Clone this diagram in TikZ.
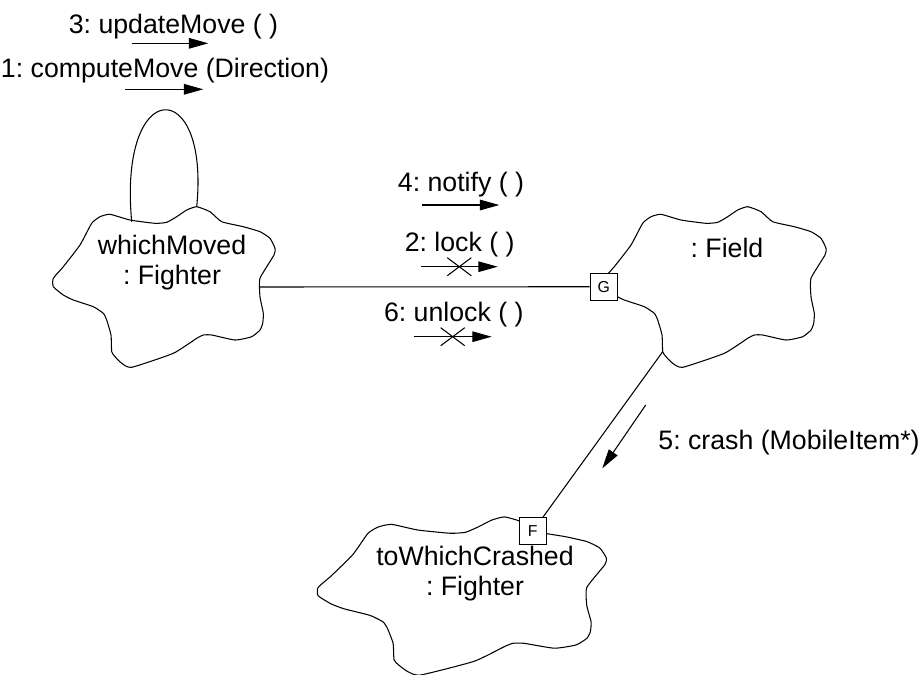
\documentclass[tikz,border=0pt]{standalone}
\usepackage{fontspec}
\setmainfont{Liberation Sans}
\usetikzlibrary{positioning,arrows.meta,shapes.misc}
\frenchspacing

\tikzset{
  cloudline/.style={line width=0.6pt, line join=round},
  objtext/.style={align=center, font=\fontsize{15.2}{17}\selectfont, inner sep=0pt},
  msgtext/.style={font=\fontsize{15.2}{17}\selectfont, inner sep=0pt},
  msg/.style={line width=0.6pt, -{Triangle[length=11pt,width=6pt]}},
  link/.style={line width=0.6pt},
  adorn/.style={draw, fill=white, line width=0.6pt, minimum size=0.54cm, inner sep=0pt, font=\fontsize{9}{10}\selectfont},
  lockmark/.style={draw, cross out, line width=0.6pt, minimum width=0.46cm, minimum height=0.34cm, inner sep=0pt},
  cloudshape/.pic={
    \draw[cloudline] plot[smooth cycle, tension=0.3] coordinates {
      (-110.7,-0.3) (-110.7,-8.7) (-100.7,-20.3) (-84,-42) (-72.3,-63.7)
      (-64,-70.3) (-54,-72.7) (-34,-67) (-9,-63.7) (2.7,-64.7) (12.7,-70.3)
      (22.7,-77) (32.7,-80.3) (46,-75.3) (57.7,-65.3) (79.3,-60.3) (96,-55.3)
      (106,-48.7) (111,-38.7) (110,-32) (96,-8.7) (96,9.7) (99.3,26.3)
      (98.7,36.3) (96,43) (87.7,49.7) (71,53) (47.7,48) (39.3,48) (32.7,51.3)
      (9.3,66.3) (-32.3,80.3) (-42.3,76.3) (-49,69.7) (-52.3,64.7) (-53,48)
      (-57.3,33) (-60.7,26.3) (-70.7,19.7) (-90.7,13) (-100.7,8)};
    \coordinate (-east) at (96,0);
    \coordinate (-sw) at (-52.3,64.7);
    \coordinate (-la) at (-32.3,-65.3);
    \coordinate (-ra) at (32.7,-80.3);
  }
}

\begin{document}
\begin{tikzpicture}[x=0.02cm, y=-0.02cm]
	\useasboundingbox (0,0) rectangle (919,674);

	% objects
	\pic (wm) at (164,287) {cloudshape};
	\pic (fld) at (715,287) {cloudshape};
	\pic[xscale=1.3, yscale=0.985] (twc) at (462,596) {cloudshape};

	\node[objtext] (wmtext) at (172,263) {whichMoved\\: Fighter};
	\node[objtext] (fldtext) at (727,248) {: Field};
	\node[objtext] (twctext) at (475,574) {toWhichCrashed\\: Fighter};

	\node[adorn] (gbox) at (603.7,286.7) {G};
	\node[adorn] (fbox) at (532.7,531.3) {F};

	% links
	\draw[link] (wm-la) .. controls (118,75) and (210,75) .. (wm-ra);
	\draw[link] (wm-east) -- (gbox);
	\draw[link] (fld-sw) -- (fbox);

	% messages
	\node[msgtext] (m3) at (173.5,27) {3: updateMove ( )};
	\node[msgtext] (m1) at (165,71) {1: computeMove (Direction)};
	\node[msgtext] (m4) at (461,185) {4: notify ( )};
	\node[msgtext] (m2) at (459.7,245) {2: lock ( )};
	\node[msgtext] (m6) at (453.8,315) {6: unlock ( )};
	\node[msgtext] (m5) at (789,443) {5: crash (MobileItem*)};

	\coordinate (a3s) at (131.7,43.3);
	\coordinate (a3e) at (208.3,43.3);
	\coordinate (a1s) at (125,89.3);
	\coordinate (a1e) at (203.3,89.3);
	\coordinate (a4s) at (421.7,205);
	\coordinate (a4e) at (499.3,205);
	\coordinate (a2s) at (421,266.7);
	\coordinate (a2e) at (497.7,266.7);
	\coordinate (a6s) at (414,336.7);
	\coordinate (a6e) at (491.7,336.7);
	\coordinate (a5s) at (645.7,405);
	\coordinate (a5e) at (602.3,468.3);

	\draw[msg] (a3s) -- (a3e);
	\draw[msg] (a1s) -- (a1e);
	\draw[msg] (a4s) -- (a4e);
	\draw[msg] (a2s) -- (a2e);
	\draw[msg] (a6s) -- (a6e);
	\draw[msg] (a5s) -- (a5e);

	\node[lockmark] (x2) at (459.3,266.7) {};
	\node[lockmark] (x6) at (452.7,336.7) {};
\end{tikzpicture}
\end{document}
